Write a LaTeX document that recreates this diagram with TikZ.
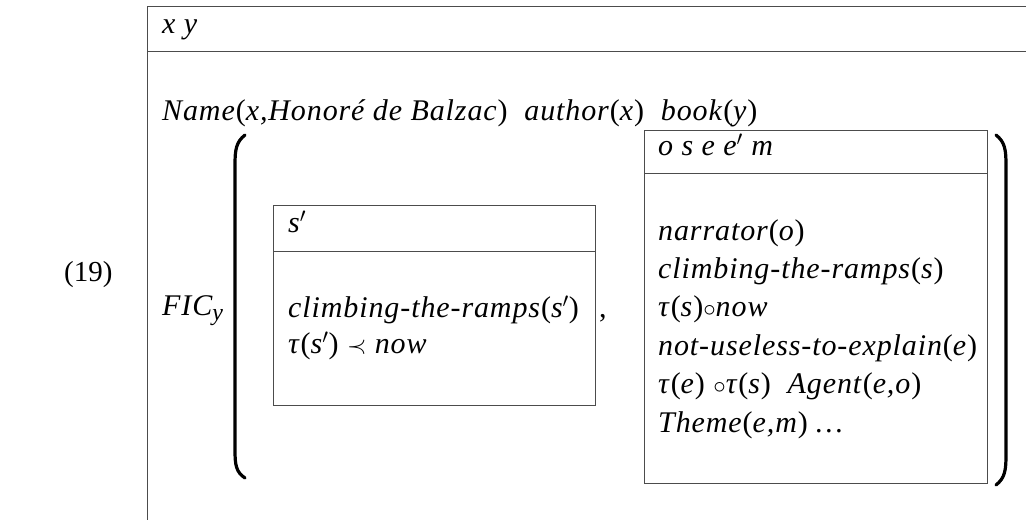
\documentclass[tikz,border=0pt]{standalone}
\usepackage{fontspec}
\setmainfont{Liberation Serif}[ItalicFont={Liberation Serif Italic}]
\usetikzlibrary{calc}
\newcommand{\args}[1]{\textup{(}#1\textup{)}}
\newcommand{\drsbox}[5]{% left, top, right, bottom, rule under the universe
  \draw[drsline] (#1,#2) rectangle (#3,#4);
  \draw[drsline] (#1,#5) -- (#3,#5);}
\tikzset{
  drsline/.style={black!70, line width=1pt},
  paren/.style={black, line width=3.2pt, line cap=round},
  cond/.style={anchor=base west, inner sep=0pt,
    font=\fontsize{30}{38}\selectfont\itshape\addfontfeatures{LetterSpace=3}}
}

\begin{document}
\begin{tikzpicture}[x=1pt, y=-1pt]
        \useasboundingbox (0,0) rectangle (1026,520);
        \pgfmathsetmacro{\rowsep}{38.4}
        % outer box, open to the right and below
        \draw[drsline] (1026,6) -- (147,6) -- (147,520);
        \draw[drsline] (147,51) -- (1026,51);
        \node[cond, font=\fontsize{29}{38}\selectfont] (num) at (64,281) {(19)};
        \node[cond] (univ) at (162,33) {x y};
        \node[cond] (names) at (162,120) {Name\args{x,Honoré de Balzac}\ \ author\args{x}\ \ book\args{y}};
        \node[cond] (fic) at (162,315) {FIC{\raisebox{-5pt}{\fontsize{24}{24}\selectfont y}}};
        % the big brackets round the two boxes
        \draw[paren] (245,135) .. controls (236,142) and (235,150) .. (235,165)
                     -- (235,450) .. controls (235,465) and (236,472) .. (245,478);
        \draw[paren] (996,135) .. controls (1005,142) and (1006,150) .. (1006,165)
                     -- (1006,455) .. controls (1006,470) and (1005,478) .. (996,485);
        % first sub-box
        \drsbox{273}{205}{595}{405}{251}
        \node[cond] (univa) at (288,232) {s$'$};
        \node[cond] (conda) at (288,317) {climbing-the-ramps\args{s$'$}};
        \node[cond] (condb) at (288,353) {τ\args{s$'$} $\prec$ now};
        \node[cond] (comma) at (599,317) {\upshape ,};
        % second sub-box
        \drsbox{644}{130}{987}{483}{173}
        \node[cond] (univb) at (658,155) {o s e e$'$ m};
        \foreach \txt [count=\i] in {
            {narrator\args{o}},
            {climbing-the-ramps\args{s}},
            {τ\args{s}$\circ$now},
            {not-useless-to-explain\args{e}},
            {τ\args{e} $\circ$τ\args{s}\ \ Agent\args{e,o}},
            {Theme\args{e,m} \dots}}
          \node[cond] (r\i) at (658,{240+\rowsep*(\i-1)}) {\txt};
      \end{tikzpicture}
\end{document}
